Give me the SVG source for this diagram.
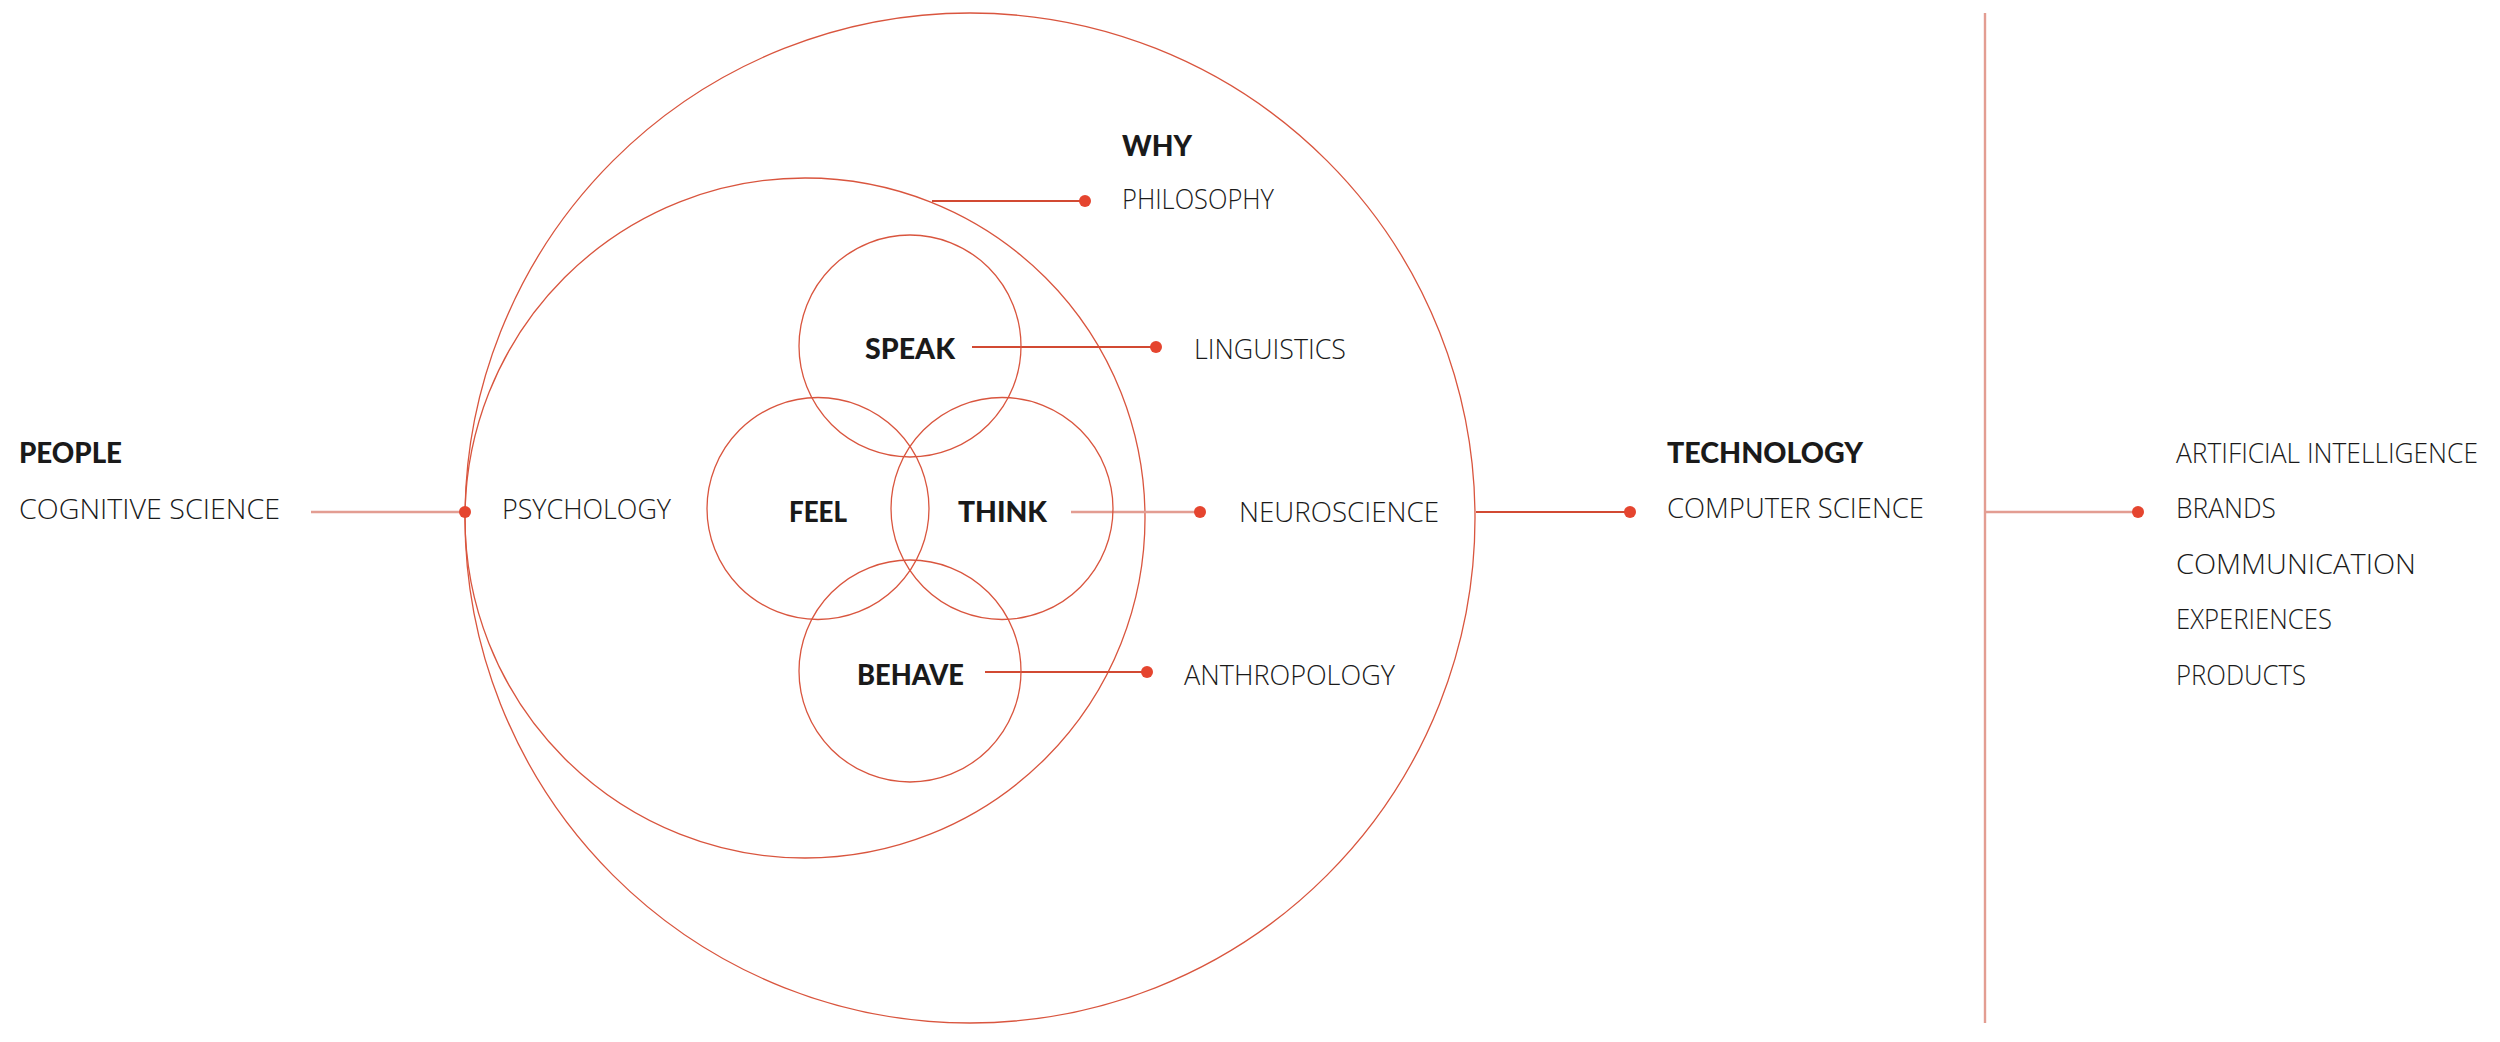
<svg xmlns="http://www.w3.org/2000/svg" width="2500" height="1042" viewBox="0 0 2500 1042">
<style>
.ring{fill:none;stroke:#d9553e;stroke-width:1.3}
.ln{stroke:#d24a33;stroke-width:2}
.lt{stroke:#e39d92;stroke-width:2.4}
.dot{fill:#e5452f}
.b{font-family:"Lato","Open Sans","Liberation Sans",sans-serif;font-weight:900;font-size:29px;fill:#1a1a1a}
.r{font-family:"Open Sans","Lato","Liberation Sans",sans-serif;font-weight:300;font-size:27px;fill:#1a1a1a}
</style>
<rect width="2500" height="1042" fill="#ffffff"/>
<g id="rings">
<circle id="big" class="ring" cx="970" cy="518" r="505"/>
<circle id="medium" class="ring" cx="805" cy="518" r="340"/>
</g>
<g id="connectors">
<line class="lt" x1="311" y1="512" x2="465" y2="512"/>
<line class="ln" x1="932" y1="201" x2="1085" y2="201"/>
<line class="ln" x1="972" y1="347" x2="1156" y2="347"/>
<line class="lt" x1="1071" y1="512" x2="1200" y2="512"/>
<line class="ln" x1="985" y1="672" x2="1147" y2="672"/>
<line class="ln" x1="1476" y1="512" x2="1630" y2="512"/>
<line class="lt" x1="1985" y1="13" x2="1985" y2="1023"/>
<line class="lt" x1="1985" y1="512" x2="2138" y2="512"/>
<circle class="dot" cx="465" cy="512" r="6"/>
<circle class="dot" cx="1085" cy="201" r="6"/>
<circle class="dot" cx="1156" cy="347" r="6"/>
<circle class="dot" cx="1200" cy="512" r="6"/>
<circle class="dot" cx="1147" cy="672" r="6"/>
<circle class="dot" cx="1630" cy="512" r="6"/>
<circle class="dot" cx="2138" cy="512" r="6"/>
</g>
<g id="people">
<text class="b" x="19" y="463" textLength="103" lengthAdjust="spacingAndGlyphs">PEOPLE</text>
<text class="r" x="19" y="519" textLength="261" lengthAdjust="spacingAndGlyphs">COGNITIVE SCIENCE</text>
</g>
<g id="psychology"><text class="r" x="502" y="519" textLength="169" lengthAdjust="spacingAndGlyphs">PSYCHOLOGY</text></g>
<g id="why">
<text class="b" x="1122" y="156" textLength="70" lengthAdjust="spacingAndGlyphs">WHY</text>
<text class="r" x="1122" y="209" textLength="152" lengthAdjust="spacingAndGlyphs">PHILOSOPHY</text>
</g>
<g id="speak">
<circle class="ring" cx="910" cy="346" r="111"/>
<text class="b" x="865" y="359" textLength="90" lengthAdjust="spacingAndGlyphs">SPEAK</text>
</g>
<g id="feel">
<circle class="ring" cx="818" cy="508.5" r="111"/>
<text class="b" x="789" y="522" textLength="58" lengthAdjust="spacingAndGlyphs">FEEL</text>
</g>
<g id="think">
<circle class="ring" cx="1002" cy="508.5" r="111"/>
<text class="b" x="958" y="522" textLength="89" lengthAdjust="spacingAndGlyphs">THINK</text>
</g>
<g id="behave">
<circle class="ring" cx="910" cy="671" r="111"/>
<text class="b" x="857" y="685" textLength="107" lengthAdjust="spacingAndGlyphs">BEHAVE</text>
</g>
<g id="linguistics"><text class="r" x="1194" y="359" textLength="152" lengthAdjust="spacingAndGlyphs">LINGUISTICS</text></g>
<g id="neuroscience"><text class="r" x="1239" y="522" textLength="200" lengthAdjust="spacingAndGlyphs">NEUROSCIENCE</text></g>
<g id="anthropology"><text class="r" x="1184" y="685" textLength="211" lengthAdjust="spacingAndGlyphs">ANTHROPOLOGY</text></g>
<g id="technology">
<text class="b" x="1667" y="463" textLength="196" lengthAdjust="spacingAndGlyphs">TECHNOLOGY</text>
<text class="r" x="1667" y="518" textLength="257" lengthAdjust="spacingAndGlyphs">COMPUTER SCIENCE</text>
</g>
<g id="outputs">
<text class="r" x="2176" y="463" textLength="302" lengthAdjust="spacingAndGlyphs">ARTIFICIAL INTELLIGENCE</text>
<text class="r" x="2176" y="518" textLength="100" lengthAdjust="spacingAndGlyphs">BRANDS</text>
<text class="r" x="2176" y="574" textLength="240" lengthAdjust="spacingAndGlyphs">COMMUNICATION</text>
<text class="r" x="2176" y="629" textLength="156" lengthAdjust="spacingAndGlyphs">EXPERIENCES</text>
<text class="r" x="2176" y="685" textLength="130" lengthAdjust="spacingAndGlyphs">PRODUCTS</text>
</g>
</svg>
